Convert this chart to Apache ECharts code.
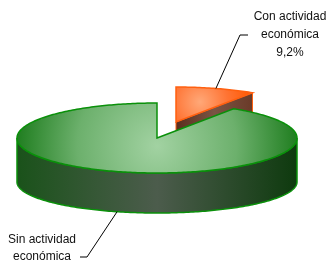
<!DOCTYPE html>
<html><head><meta charset="utf-8">
<script src="https://cdn.jsdelivr.net/npm/echarts@6/dist/echarts.min.js"></script>
<style>html,body{margin:0;padding:0;background:#fff}#c{width:330px;height:269px}</style>
</head><body><div id="c"></div>
<script>
// ---- data ----
const categories = ['Con actividad económica', 'Sin actividad económica'];
const values = [9.2, 90.8];
const labelTexts = ['Con actividad\neconómica\n9,2%', 'Sin actividad\neconómica'];
const explode = [0.476, 0];

// ---- layout / style ----
const CX = 157, CY = 138, RX = 140, RY = 35, DEPTH = 44, RYB = 31;
const labelPos = [
  { elbow: [240, 35], end: [248, 35], text: [290, 35], lh: 18 },
  { elbow: [87, 257], end: [80, 257], text: [42, 248], lh: 17 }
];
const styles = [
  { top: ['#ffa878', '#ff7434', '#ff5a06'], gc: 0.6, gr: 50, gdy: 0, stroke: '#ff6010', face: ['#5a2e1e', '#7a5444', '#6a3a28'], wall: ['#8a3a10', '#a05030', '#8a3a10'] },
  { top: ['#a2d2a2', '#6cb06c', '#1a7a1a'], gc: 0, gr: 145, gdy: 8, stroke: '#0a900a', face: ['#174f17', '#4c5c4c', '#0e3a0e'], wall: ['#1a521a', '#4c5c4c', '#0e3a0e'] }
];

const total = values.reduce((a, b) => a + b, 0);
function pt(cx, cy, rx, ry, deg) { const t = deg * Math.PI / 180; return [cx + rx * Math.sin(t), cy - ry * Math.cos(t)]; }
function arc(cx, cy, rx, ry, a0, a1) {
  const pts = []; const n = Math.max(2, Math.ceil(Math.abs(a1 - a0)));
  for (let i = 0; i <= n; i++) pts.push(pt(cx, cy, rx, ry, a0 + (a1 - a0) * i / n));
  return pts;
}
function lin(x0, x1, c) {
  return new echarts.graphic.LinearGradient(x0, 0, x1, 0, [{ offset: 0, color: c[0] }, { offset: 0.5, color: c[1] }, { offset: 1, color: c[2] }], true);
}

function renderItem(params, api) {
  const idx = params.dataIndex;
  const v = api.value(0);
  let before = 0; for (let i = 0; i < idx; i++) before += values[i];
  const start = before / total * 360, end = start + v / total * 360, mid = (start + end) / 2;
  const e = explode[idx];
  const cx = CX + e * RX * Math.sin(mid * Math.PI / 180);
  const cy = CY - e * RY * Math.cos(mid * Math.PI / 180);
  const cyB = cy + DEPTH;
  const st = styles[idx];
  const children = [];
  // outer wall (front half only)
  const a0 = Math.max(start, 90), a1 = Math.min(end, 270);
  if (a1 > a0) {
    const top = arc(cx, cy, RX, RY, a0, a1);
    const bot = arc(cx, cyB, RX, RYB, a0, a1).reverse();
    children.push({ type: 'polygon', shape: { points: top.concat(bot) },
      style: { fill: lin(cx - RX, cx + RX, st.wall), stroke: st.stroke, lineWidth: 1.5 } });
  }
  // radial faces
  [[start, start - 90], [end, end + 90]].forEach(([ang, nrm]) => {
    if (Math.cos(nrm * Math.PI / 180) < -0.01) {
      const p = pt(cx, cy, RX, RY, ang), q = pt(cx, cyB, RX, RYB, ang);
      children.push({ type: 'polygon', shape: { points: [[cx, cy], p, q, [cx, cyB]] },
        style: { fill: lin(cx, p[0], st.face), stroke: st.stroke, lineWidth: 1 } });
    }
  });
  // top face
  const topPts = [[cx, cy]].concat(arc(cx, cy, RX, RY, start, end));
  const g = pt(cx, cy, RX * st.gc, RY * st.gc, mid);
  children.push({ type: 'polygon', shape: { points: topPts },
    style: { fill: new echarts.graphic.RadialGradient(g[0], g[1] + st.gdy, st.gr,
      [{ offset: 0, color: st.top[0] }, { offset: 0.55, color: st.top[1] }, { offset: 1, color: st.top[2] }], true),
      stroke: st.stroke, lineWidth: 1.5 } });
  // label + leader
  const cm = Math.cos(mid * Math.PI / 180);
  const anchor = cm > 0 ? pt(cx, cy, RX, RY, mid) : pt(cx, cyB, RX, RYB, mid);
  const lp = labelPos[idx];
  children.push({ type: 'polyline', shape: { points: [anchor, lp.elbow, lp.end] },
    style: { stroke: '#000', lineWidth: 1, fill: null }, z2: 10 });
  children.push({ type: 'text', z2: 10, style: { text: labelTexts[idx], x: lp.text[0], y: lp.text[1],
    align: 'center', verticalAlign: 'middle', lineHeight: lp.lh,
    font: '12px "Liberation Sans", Arial, sans-serif', fill: '#111' } });
  return { type: 'group', children };
}

const chart = echarts.init(document.getElementById('c'));
chart.setOption({
  animation: false,
  backgroundColor: '#fff',
  series: [{
    type: 'custom',
    coordinateSystem: 'none',
    renderItem,
    data: values.map((v, i) => ({ name: categories[i], value: [v] }))
  }]
});
</script></body></html>
